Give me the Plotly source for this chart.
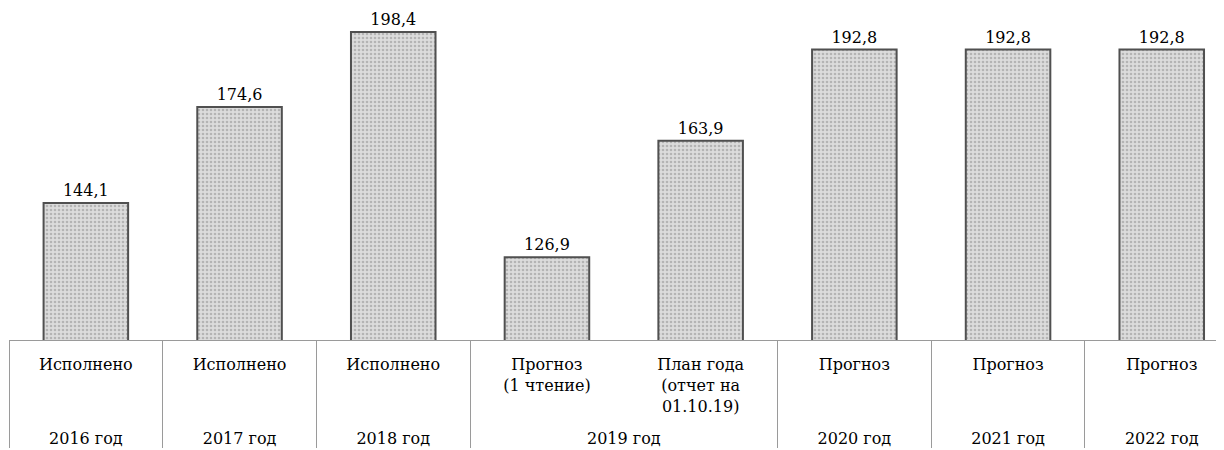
import plotly.graph_objects as go

# two-level categories: year / status
years = ["2016 год", "2017 год", "2018 год", "2019 год", "2019 год",
         "2020 год", "2021 год", "2022 год"]
statuses = ["Исполнено", "Исполнено", "Исполнено",
            "Прогноз<br>(1 чтение)", "План года<br>(отчет на<br>01.10.19)",
            "Прогноз", "Прогноз", "Прогноз"]
values = [144.1, 174.6, 198.4, 126.9, 163.9, 192.8, 192.8, 192.8]

FONT = "DejaVu Serif"

# a blank first line drops the year row lower, like the table in the original
year_labels = ["<br>" + y for y in years]

fig = go.Figure(
    go.Bar(
        x=[year_labels, statuses],
        y=values,
        texttemplate="%{y:.1f}",
        textposition="outside",
        cliponaxis=False,
        textfont=dict(family=FONT, size=16, color="black"),
        marker=dict(
            color="#d9d9d9",
            line=dict(color="#505050", width=2),
            pattern=dict(shape=".", fgcolor="#8c8c8c", bgcolor="#dcdcdc",
                         size=4, solidity=0.35),
        ),
        width=0.55,
    )
)

# page body adds an 8px offset, so the figure is a bit smaller than the window
fig.update_layout(
    width=1216,
    height=442,
    margin=dict(l=1, r=0, t=12, b=110),
    paper_bgcolor="white",
    plot_bgcolor="white",
    separators=", ",
    showlegend=False,
    font=dict(family=FONT, size=16, color="black"),
)
fig.update_xaxes(
    type="multicategory",
    range=[-0.5, 7.405],
    showline=True,
    linecolor="#9a9a9a",
    linewidth=1,
    ticks="",
    ticklabelstandoff=10,
    showdividers=True,
    dividercolor="#9a9a9a",
    dividerwidth=1,
    showgrid=False,
    automargin=False,
    tickfont=dict(family=FONT, size=16, color="black"),
)
fig.update_yaxes(
    range=[100.6, 202.2],
    visible=False,
)

fig.write_html("out.html")
